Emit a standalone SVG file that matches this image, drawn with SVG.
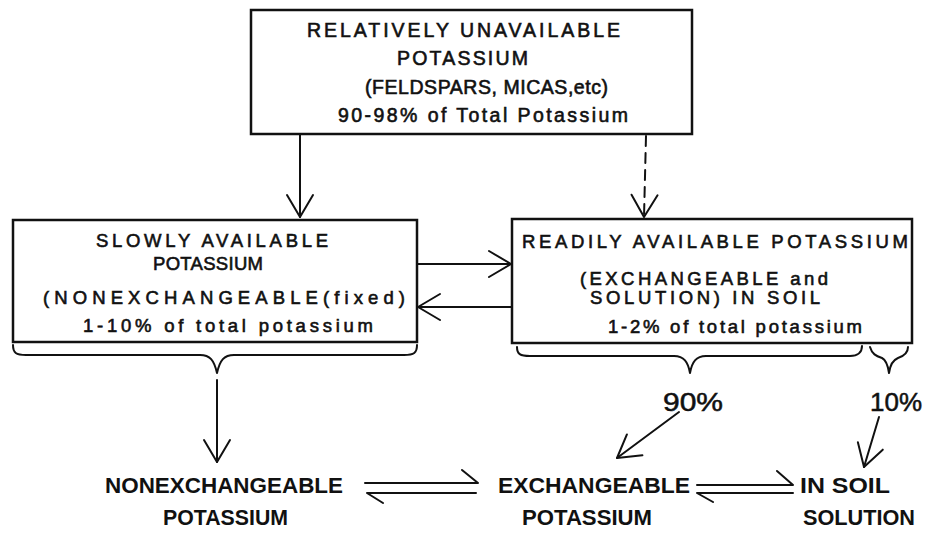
<svg xmlns="http://www.w3.org/2000/svg" width="928" height="535" viewBox="0 0 928 535">
<style>
.box{fill:none;stroke:#111;stroke-width:2.5}
.ln{fill:none;stroke:#111;stroke-width:2;stroke-linecap:round;stroke-linejoin:round}
.t{font-family:"Liberation Sans",Arial,sans-serif;font-size:18.5px;fill:#111;stroke:#111;stroke-width:0.6}
.tt{font-size:19.5px}
.b{font-family:"Liberation Sans",Arial,sans-serif;font-size:22px;font-weight:bold;fill:#111}
.p{font-family:"Liberation Sans",Arial,sans-serif;font-size:25px;fill:#111;stroke:#111;stroke-width:0.5}
</style>
<defs>
<marker id="v" markerUnits="userSpaceOnUse" viewBox="-24 -15 26 30" refX="0" refY="0" markerWidth="26" markerHeight="30" orient="auto">
<path d="M-22,-13 L0,0 L-22,13" fill="none" stroke="#111" stroke-width="2" stroke-linecap="round" stroke-linejoin="round"/>
</marker>
</defs>
<rect width="928" height="535" fill="#fff"/>
<g id="top">
<rect class="box" x="251" y="10" width="441" height="124"/>
<text class="t tt" x="307" y="37" textLength="313" lengthAdjust="spacing">RELATIVELY UNAVAILABLE</text>
<text class="t tt" x="397" y="65" textLength="131" lengthAdjust="spacing">POTASSIUM</text>
<text class="t tt" x="365" y="94" textLength="243" lengthAdjust="spacing">(FELDSPARS, MICAS,etc)</text>
<text class="t tt" x="338" y="122" textLength="290" lengthAdjust="spacing">90-98% of Total Potassium</text>
</g>
<g id="slow">
<rect class="box" x="13" y="220" width="404" height="122"/>
<text class="t" x="96" y="247" textLength="232" lengthAdjust="spacing">SLOWLY AVAILABLE</text>
<text class="t" x="153" y="270" textLength="110" lengthAdjust="spacing">POTASSIUM</text>
<text class="t" x="43" y="304" textLength="362" lengthAdjust="spacing">(NONEXCHANGEABLE(fixed)</text>
<text class="t" x="83" y="332" textLength="290" lengthAdjust="spacing">1-10% of total potassium</text>
</g>
<g id="ready">
<rect class="box" x="512" y="219" width="400" height="124"/>
<text class="t" x="522" y="248" textLength="386" lengthAdjust="spacing">READILY AVAILABLE POTASSIUM</text>
<text class="t" x="580" y="285" textLength="248" lengthAdjust="spacing">(EXCHANGEABLE and</text>
<text class="t" x="590" y="304" textLength="230" lengthAdjust="spacing">SOLUTION) IN SOIL</text>
<text class="t" x="608" y="333" textLength="254" lengthAdjust="spacing">1-2% of total potassium</text>
</g>
<g id="nonex">
<text class="b" x="105" y="493" textLength="238" lengthAdjust="spacingAndGlyphs">NONEXCHANGEABLE</text>
<text class="b" x="163" y="525" textLength="125" lengthAdjust="spacingAndGlyphs">POTASSIUM</text>
</g>
<g id="exch">
<text class="b" x="498" y="493" textLength="192" lengthAdjust="spacingAndGlyphs">EXCHANGEABLE</text>
<text class="b" x="522" y="525" textLength="130" lengthAdjust="spacingAndGlyphs">POTASSIUM</text>
</g>
<g id="soln">
<text class="b" x="800" y="493" textLength="90" lengthAdjust="spacingAndGlyphs">IN SOIL</text>
<text class="b" x="803" y="525" textLength="112" lengthAdjust="spacingAndGlyphs">SOLUTION</text>
</g>
<g id="labels">
<text class="p" x="663" y="411" textLength="60" lengthAdjust="spacingAndGlyphs">90%</text>
<text class="p" x="870" y="411" textLength="52" lengthAdjust="spacingAndGlyphs">10%</text>
</g>
<g id="connectors">
<line class="ln" x1="300" y1="134" x2="300" y2="217" marker-end="url(#v)"/>
<line class="ln" x1="646" y1="136" x2="644" y2="217" stroke-dasharray="10 7" marker-end="url(#v)"/>
<line class="ln" x1="417" y1="264" x2="511" y2="264" marker-end="url(#v)"/>
<line class="ln" x1="512" y1="307" x2="418" y2="307" marker-end="url(#v)"/>
<path class="ln" d="M13,345 C13,353 16,355 26,355 L200,355 C210,355 214,360 217,373 C220,360 224,355 234,355 L404,355 C414,355 417,353 417,345"/>
<path class="ln" d="M517,347 C517,354 520,356 530,356 L674,356 C684,356 688,362 690,373 C692,362 696,356 706,356 L850,356 C858,356 862,352 862,346"/>
<path class="ln" d="M870,347 C872,354 876,356 882,358 C886,360 888,366 889,373 C890,366 893,360 898,358 C904,356 908,353 908,347"/>
<line class="ln" x1="217" y1="380" x2="217" y2="462" marker-end="url(#v)"/>
<line class="ln" x1="679" y1="412" x2="617" y2="458" marker-end="url(#v)"/>
<line class="ln" x1="879" y1="417" x2="864" y2="467" marker-end="url(#v)"/>
<path class="ln" d="M365,483 L478,483 L462,470"/>
<path class="ln" d="M476,493 L367,493 L383,503"/>
<path class="ln" d="M697,485 L793,485 L777,471"/>
<path class="ln" d="M793,493 L697,493 L713,502"/>
</g>
</svg>
